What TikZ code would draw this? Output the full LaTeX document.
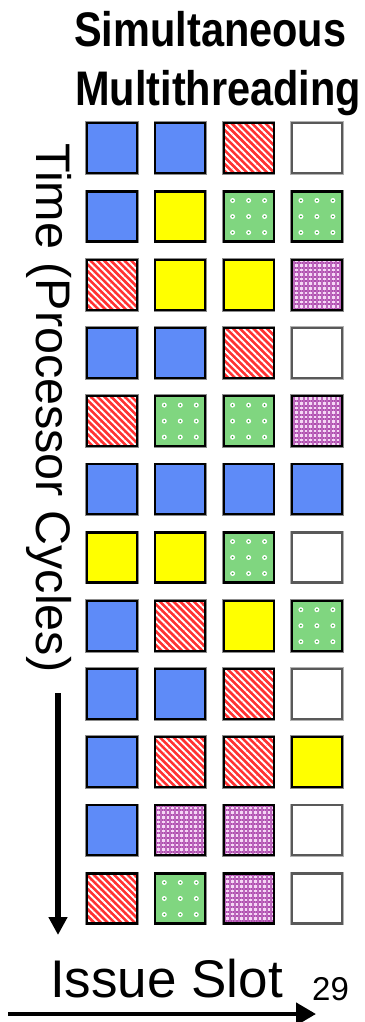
\documentclass[tikz,border=0pt]{standalone}
\usepackage{fontspec}
\setmainfont{Liberation Sans}
\usetikzlibrary{arrows.meta,patterns.meta}
\definecolor{sblue}{RGB}{94,139,248}
\definecolor{syellow}{RGB}{255,255,0}
\definecolor{sgreen}{RGB}{128,214,128}
\definecolor{sgreendot}{RGB}{40,170,40}
\definecolor{sred}{RGB}{255,50,50}
\definecolor{spurple}{RGB}{175,75,175}
\definecolor{spink}{RGB}{245,215,245}
\tikzset{
  slot/.style={minimum size=50pt, inner sep=0pt, draw=black, line width=2.2pt,
     preaction={draw=black!45, line width=3.6pt}},
  B/.style={slot, fill=sblue},
  Y/.style={slot, fill=syellow},
  W/.style={slot, fill=white, draw=black!65, preaction={draw=black!30, line width=3.6pt}},
  R/.style={slot, preaction={fill=sred},
     pattern={Lines[angle=-45,distance=4.8pt,line width=1.9pt]}, pattern color=white},
  P/.style={slot, preaction={fill=spink},
     preaction={pattern={Lines[angle=0,distance=4.6pt,line width=2pt]}, pattern color=spurple},
     pattern={Lines[angle=90,distance=4.6pt,line width=2pt]}, pattern color=spurple!85},
  G/.style={slot, fill=sgreen, path picture={
     \foreach \a in {-16,0,16} \foreach \b in {-16,0,16} {
       \fill[white] ([xshift=\a pt,yshift=\b pt]path picture bounding box.center) circle (2.5pt);
       \fill[sgreendot] ([xshift=\a pt,yshift=\b pt]path picture bounding box.center) circle (1pt);}}},
  lbl/.style={inner sep=0pt, text=black},
  arr/.style={draw=black, -{Triangle[length=18pt,width=18pt]}}
}
\begin{document}
\begin{tikzpicture}[x=1pt,y=-1pt]
\useasboundingbox (0,0) rectangle (364,1022);
\fill[white] (0,0) rectangle (364,1022);
% title
\node[lbl, anchor=base west, font=\fontsize{41.5}{45}\selectfont\bfseries] (t1) at (74,47) {\scalebox{1}[1.17]{Simultaneous}};
\node[lbl, anchor=base west, font=\fontsize{41.5}{45}\selectfont\bfseries] (t2) at (75,106) {\scalebox{1}[1.17]{Multithreading}};
% grid
\foreach \r [count=\i from 0] in {
  {B,B,R,W},{B,Y,G,G},{R,Y,Y,P},{B,B,R,W},{R,G,G,P},{B,B,B,B},
  {Y,Y,G,W},{B,R,Y,G},{B,B,R,W},{B,R,R,Y},{B,P,P,W},{R,G,P,W}} {
  \foreach \s [count=\j from 0] in \r {
    \node[\s] (c\i-\j) at ({112+68.3*\j},{148.3+68.2*\i}) {};
  }
}
% time axis
\node[lbl, anchor=base west, rotate=-90, font=\fontsize{48.5}{52}\selectfont] (time) at (36,143) {Time (Processor Cycles)};
\coordinate (va) at (58,693);
\coordinate (vb) at (58,935);
\draw[arr, line width=6pt] (va) -- (vb);
% issue slot
\node[lbl, anchor=base west, font=\fontsize{53}{56}\selectfont] (issue) at (50,997) {Issue Slot};
\coordinate (ha) at (8,1014);
\coordinate (hb) at (316,1014);
\draw[draw=black, line width=4.5pt, -{Triangle[length=20pt,width=22pt]}] (ha) -- (hb);
\node[lbl, anchor=base west, font=\fontsize{33}{36}\selectfont] (num) at (312,1000) {29};
\end{tikzpicture}
\end{document}
